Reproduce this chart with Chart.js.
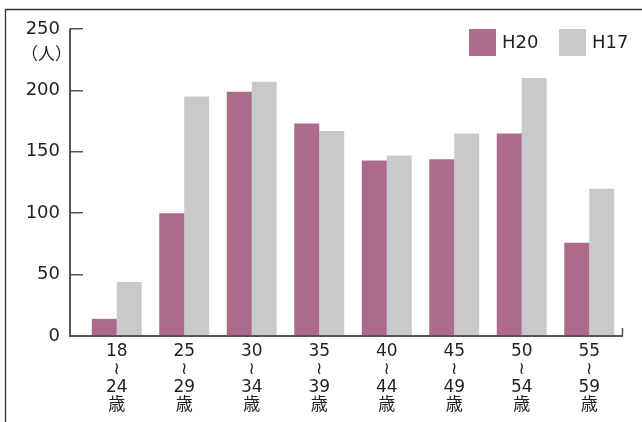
<!DOCTYPE html>
<html>
<head>
<meta charset="utf-8">
<script src="https://cdn.jsdelivr.net/npm/chart.js@4"></script>
<style>
  html, body { margin: 0; padding: 0; background: #fff; }
  #wrap { width: 642px; height: 422px; position: relative; }
</style>
</head>
<body>
<div id="wrap"><canvas id="c" width="642" height="422"></canvas></div>
<script>
const categories = [
  ['18', '≀', '24', '歳'],
  ['25', '≀', '29', '歳'],
  ['30', '≀', '34', '歳'],
  ['35', '≀', '39', '歳'],
  ['40', '≀', '44', '歳'],
  ['45', '≀', '49', '歳'],
  ['50', '≀', '54', '歳'],
  ['55', '≀', '59', '歳']
];
const seriesNames = ['H20', 'H17'];
const h20 = [14, 100, 199, 173, 143, 144, 165, 76];
const h17 = [44, 195, 207, 167, 147, 165, 210, 120];
const yTicks = [0, 50, 100, 150, 200, 250];
const unitLabel = '（人）';

const FONT = "'DejaVu Sans', 'Noto Sans CJK JP', sans-serif";
const TEXT = '#231f20';
const AXIS = '#555555';

const decor = {
  id: 'decor',
  afterDraw(chart) {
    const ctx = chart.ctx;
    const x = chart.scales.x, y = chart.scales.y;
    const ca = chart.chartArea;
    const axisX = ca.left - 13;
    const bottom = y.getPixelForValue(0);
    const top = y.getPixelForValue(250);
    ctx.save();
    // frame
    ctx.strokeStyle = '#333';
    ctx.lineWidth = 1.3;
    ctx.beginPath();
    ctx.moveTo(5.5, chart.height);
    ctx.lineTo(5.5, 9.5);
    ctx.lineTo(chart.width, 9.5);
    ctx.stroke();
    // axes
    ctx.strokeStyle = AXIS;
    ctx.lineWidth = 2;
    ctx.beginPath();
    ctx.moveTo(axisX, top - 0.5);
    ctx.lineTo(axisX, bottom);
    ctx.lineTo(x.right, bottom);
    ctx.stroke();
    ctx.lineWidth = 1.5;
    ctx.beginPath();
    ctx.moveTo(x.right - 0.5, bottom);
    ctx.lineTo(x.right - 0.5, bottom - 8);
    ctx.stroke();
    // unit label
    ctx.fillStyle = TEXT;
    ctx.font = "17px 'Noto Sans CJK JP', sans-serif";
    ctx.textAlign = 'right';
    ctx.textBaseline = 'middle';
    ctx.fillText(unitLabel, axisX + 2, top + 25);
    // legend (from dataset labels/colours)
    ctx.font = '18px ' + FONT;
    ctx.textAlign = 'left';
    const box = 27, gap = 6, pitch = 90;
    const ds = chart.data.datasets;
    let lx = x.right - 64 - pitch * (ds.length - 1);
    const ly = top;
    ds.forEach((d) => {
      ctx.fillStyle = d.backgroundColor;
      ctx.fillRect(lx, ly, box, box);
      ctx.fillStyle = TEXT;
      ctx.fillText(d.label, lx + box + gap, ly + box / 2 + 1);
      lx += pitch;
    });
    ctx.restore();
  }
};

new Chart(document.getElementById('c'), {
  type: 'bar',
  data: {
    labels: categories,
    datasets: [
      { label: seriesNames[0], data: h20, backgroundColor: '#ad6b8b' },
      { label: seriesNames[1], data: h17, backgroundColor: '#c8c9cb' }
    ]
  },
  options: {
    responsive: false,
    animation: false,
    devicePixelRatio: 1,
    layout: { padding: { left: 0, right: 19, top: 29, bottom: 0 } },
    datasets: { bar: { categoryPercentage: 0.74, barPercentage: 1.0 } },
    plugins: {
      legend: { display: false },
      tooltip: { enabled: false }
    },
    scales: {
      x: {
        grid: { display: false, drawTicks: false },
        border: { display: false },
        ticks: {
          color: TEXT,
          padding: 6,
          maxRotation: 0,
          autoSkip: false,
          font: { family: FONT, size: 17, lineHeight: 1.07 }
        },
        afterFit(s) { s.height = 86; }
      },
      y: {
        min: 0, max: 250,
        afterBuildTicks(s) { s.ticks = yTicks.map(v => ({ value: v })); },
        grid: {
          drawOnChartArea: false, drawTicks: true, tickLength: 13,
          color: AXIS, lineWidth: 1.5
        },
        border: { display: false },
        ticks: {
          color: TEXT,
          padding: 10,
          font: { family: FONT, size: 18 }
        },
        afterFit(s) { s.width = 83; }
      }
    }
  },
  plugins: [decor]
});
</script>
</body>
</html>
